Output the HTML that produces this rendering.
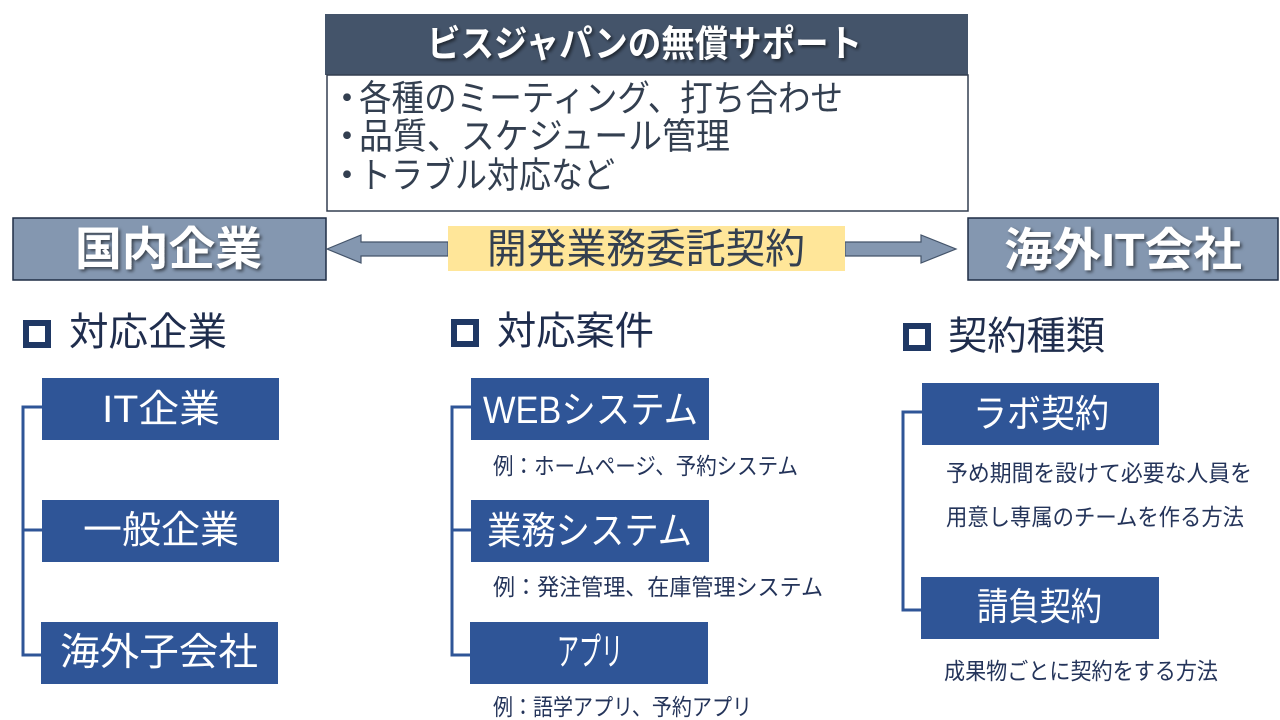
<!DOCTYPE html>
<html>
<head>
<meta charset="utf-8">
<style>
html,body{margin:0;padding:0;background:#fff;}
svg{display:block;}
text{font-family:"Liberation Sans","Noto Sans CJK JP",sans-serif;}
</style>
</head>
<body>
<svg width="1280" height="720" viewBox="0 0 1280 720" xmlns="http://www.w3.org/2000/svg">
<defs>
<filter id="sh" x="-10%" y="-30%" width="120%" height="160%">
<feDropShadow dx="2" dy="2" stdDeviation="1.5" flood-color="#000" flood-opacity="0.55"/>
</filter>
</defs>
<rect width="1280" height="720" fill="#fff"/>

<!-- Header -->
<rect x="325" y="14" width="643" height="61" fill="#44546a"/>
<text x="427" y="44" dominant-baseline="central" font-size="37" font-weight="bold" fill="#fff" filter="url(#sh)" textLength="435" lengthAdjust="spacingAndGlyphs">ビスジャパンの無償サポート</text>

<!-- White box -->
<rect x="327" y="75" width="641" height="136" fill="#fff" stroke="#333f50" stroke-width="1.5"/>
<g fill="#333f50" font-size="36">
<text x="347" y="98" dominant-baseline="central" text-anchor="middle">・</text>
<text x="359" y="98" dominant-baseline="central" textLength="484" lengthAdjust="spacingAndGlyphs">各種のミーティング、打ち合わせ</text>
<text x="347" y="136" dominant-baseline="central" text-anchor="middle">・</text>
<text x="359" y="136" dominant-baseline="central" textLength="371" lengthAdjust="spacingAndGlyphs">品質、スケジュール管理</text>
<text x="347" y="175" dominant-baseline="central" text-anchor="middle">・</text>
<text x="359" y="175" dominant-baseline="central" textLength="256" lengthAdjust="spacingAndGlyphs">トラブル対応など</text>
</g>

<!-- Left/Right boxes -->
<rect x="13" y="218" width="313" height="62" fill="#8497b0" stroke="#1f2d45" stroke-width="1.5"/>
<text x="75" y="249" dominant-baseline="central" font-size="46" font-weight="bold" fill="#fff" filter="url(#sh)" textLength="187" lengthAdjust="spacingAndGlyphs">国内企業</text>
<rect x="968" y="218" width="310" height="62" fill="#8497b0" stroke="#1f2d45" stroke-width="1.5"/>
<text x="1004" y="250" dominant-baseline="central" font-size="46" font-weight="bold" fill="#fff" filter="url(#sh)" textLength="238" lengthAdjust="spacingAndGlyphs">海外IT会社</text>

<!-- Arrows -->
<polygon points="327,249 361,235 361,242 448,242 448,256 361,256 361,263" fill="#8497b0" stroke="#44546a" stroke-width="1.2"/>
<polygon points="845,242 921,242 921,235 956,249 921,263 921,256 845,256" fill="#8497b0" stroke="#44546a" stroke-width="1.2"/>

<!-- Yellow label -->
<rect x="448" y="226" width="397" height="45" fill="#ffe699"/>
<text x="487" y="249" dominant-baseline="central" font-size="41" fill="#333f50" textLength="318" lengthAdjust="spacingAndGlyphs">開発業務委託契約</text>

<!-- Section headings -->
<g fill="none" stroke="#1f3864" stroke-width="6">
<rect x="26" y="323" width="22" height="22"/>
<rect x="454" y="322" width="22" height="22"/>
<rect x="906" y="326" width="22" height="22"/>
</g>
<g fill="#1f2d4d" font-size="39">
<text x="69" y="333" dominant-baseline="central" textLength="158" lengthAdjust="spacingAndGlyphs">対応企業</text>
<text x="497" y="332" dominant-baseline="central" textLength="157" lengthAdjust="spacingAndGlyphs">対応案件</text>
<text x="948" y="337" dominant-baseline="central" textLength="157" lengthAdjust="spacingAndGlyphs">契約種類</text>
</g>

<!-- Connectors -->
<g fill="none" stroke="#2f5597" stroke-width="3">
<path d="M42 407 H23 V655 H42"/>
<path d="M23 530 H42"/>
<path d="M471 407 H452 V655 H470"/>
<path d="M452 530 H471"/>
<path d="M922 412 H903 V610 H921"/>
</g>

<!-- Blue boxes -->
<g fill="#2f5597">
<rect x="42" y="378" width="237" height="62"/>
<rect x="42" y="500" width="237" height="62"/>
<rect x="41" y="622" width="237" height="62"/>
<rect x="471" y="378" width="238" height="62"/>
<rect x="471" y="500" width="238" height="62"/>
<rect x="470" y="622" width="238" height="62"/>
<rect x="922" y="383" width="237" height="62"/>
<rect x="921" y="577" width="238" height="62"/>
</g>
<g fill="#fff" font-size="38">
<text x="102" y="410" dominant-baseline="central" textLength="118" lengthAdjust="spacingAndGlyphs">IT企業</text>
<text x="83" y="531" dominant-baseline="central" textLength="156" lengthAdjust="spacingAndGlyphs">一般企業</text>
<text x="60" y="653" dominant-baseline="central" textLength="198" lengthAdjust="spacingAndGlyphs">海外子会社</text>
<text x="483" y="411" dominant-baseline="central" textLength="215" lengthAdjust="spacingAndGlyphs">WEBシステム</text>
<text x="487" y="532" dominant-baseline="central" textLength="205" lengthAdjust="spacingAndGlyphs">業務システム</text>
<text x="557" y="653" dominant-baseline="central" textLength="66" lengthAdjust="spacingAndGlyphs">アプリ</text>
<text x="973" y="415" dominant-baseline="central" textLength="136" lengthAdjust="spacingAndGlyphs">ラボ契約</text>
<text x="977" y="608" dominant-baseline="central" textLength="125" lengthAdjust="spacingAndGlyphs">請負契約</text>
</g>

<!-- Descriptions -->
<g fill="#24345a" font-size="23">
<text x="493" y="466" dominant-baseline="central" textLength="305" lengthAdjust="spacingAndGlyphs">例：ホームページ、予約システム</text>
<text x="493" y="587" dominant-baseline="central" textLength="330" lengthAdjust="spacingAndGlyphs">例：発注管理、在庫管理システム</text>
<text x="493" y="707" dominant-baseline="central" textLength="259" lengthAdjust="spacingAndGlyphs">例：語学アプリ、予約アプリ</text>
<text x="946" y="473" dominant-baseline="central" textLength="306" lengthAdjust="spacingAndGlyphs">予め期間を設けて必要な人員を</text>
<text x="946" y="517" dominant-baseline="central" textLength="298" lengthAdjust="spacingAndGlyphs">用意し専属のチームを作る方法</text>
<text x="944" y="671" dominant-baseline="central" textLength="274" lengthAdjust="spacingAndGlyphs">成果物ごとに契約をする方法</text>
</g>
</svg>
</body>
</html>
